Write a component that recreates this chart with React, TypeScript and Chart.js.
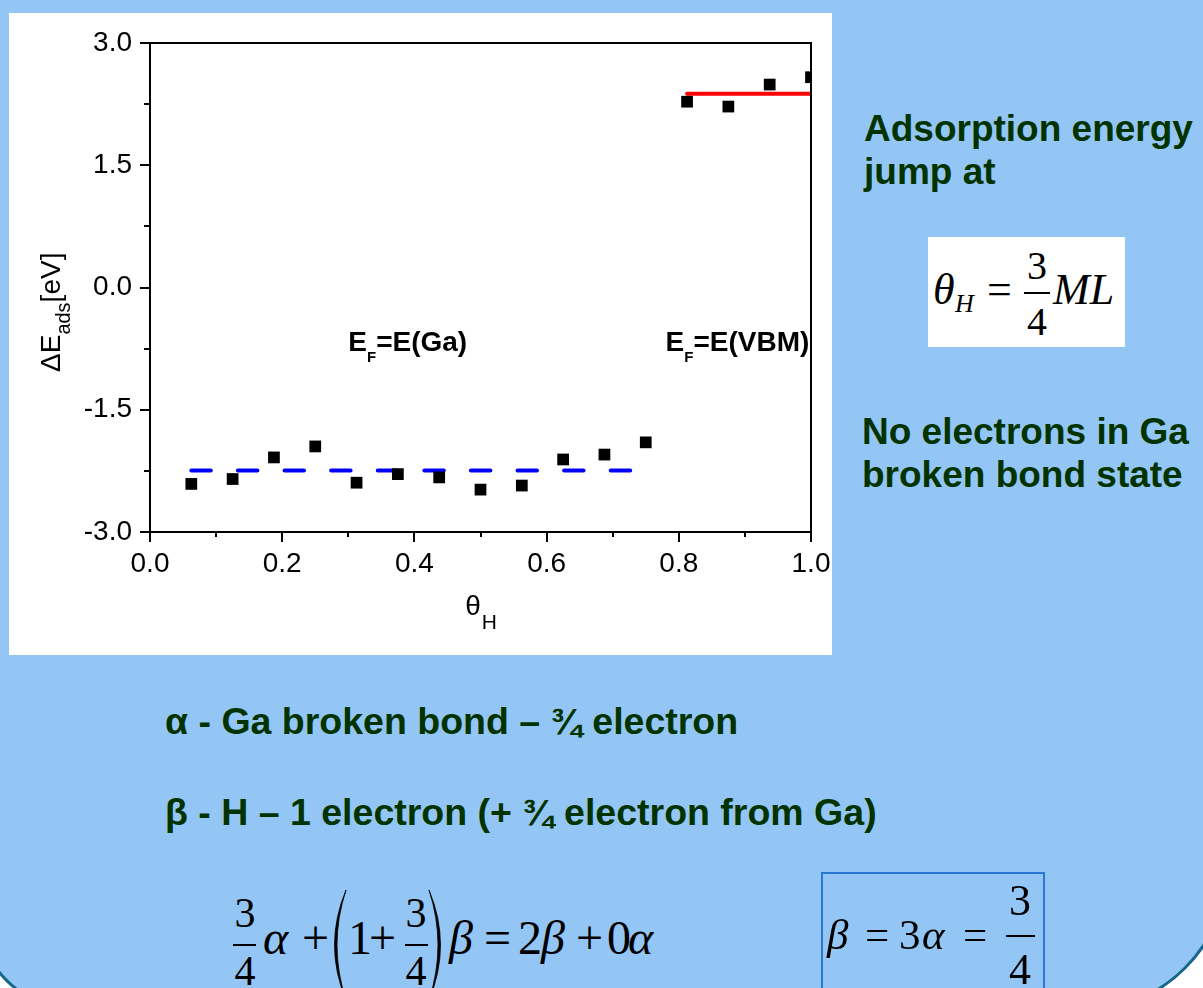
import React, { useEffect, useRef } from 'react';
import { Chart, registerables } from 'chart.js';

Chart.register(...registerables);

// ---- data ----
const thetaH = [0.0625, 0.125, 0.1875, 0.25, 0.3125, 0.375, 0.4375, 0.5, 0.5625, 0.625, 0.6875, 0.75, 0.8125, 0.875, 0.9375, 1.0];
const deltaEads = [-2.41, -2.35, -2.085, -1.95, -2.395, -2.29, -2.33, -2.48, -2.43, -2.11, -2.05, -1.9, 2.28, 2.22, 2.49, 2.58];
const fitGaX = [0.0625, 0.73];
const fitGaY = [-2.245, -2.245];
const fitVbmX = [0.8125, 1.0];
const fitVbmY = [2.378, 2.378];
const xTicks = [0, 0.2, 0.4, 0.6, 0.8, 1.0];
const yTicks = [-3, -1.5, 0, 1.5, 3];
const xMinorTicks = [0.1, 0.3, 0.5, 0.7, 0.9];
const yMinorTicks = [-2.25, -0.75, 0.75, 2.25];
const annoLabels = ['E(Ga)', 'E(VBM)'];
const annoX = [0.3, 0.78];
const annoY = [-0.78, -0.78];

const SANS = '"Liberation Sans", Arial, Helvetica, sans-serif';
const SERIF = '"Liberation Serif", "Times New Roman", Times, serif';
const BLUE = 'rgb(148,198,245)';
const GREEN = '#003300';

const decorPlugin = {
  id: 'decor',
  afterDraw(chart: any) {
    const { ctx, chartArea: a } = chart;
    const xs = chart.scales.x;
    const ys = chart.scales.y;
    ctx.save();
    ctx.strokeStyle = '#000';
    ctx.lineWidth = 2;
    ctx.beginPath();
    ctx.moveTo(a.left, a.top);
    ctx.lineTo(a.right, a.top);
    ctx.lineTo(a.right, a.bottom);
    ctx.stroke();
    ctx.beginPath();
    xMinorTicks.forEach((v) => {
      const px = Math.round(xs.getPixelForValue(v));
      ctx.moveTo(px, a.bottom);
      ctx.lineTo(px, a.bottom + 5);
    });
    yMinorTicks.forEach((v) => {
      const py = Math.round(ys.getPixelForValue(v));
      ctx.moveTo(a.left, py);
      ctx.lineTo(a.left - 6, py);
    });
    ctx.stroke();

    ctx.fillStyle = '#000';
    ctx.textBaseline = 'alphabetic';
    ctx.textAlign = 'left';
    // x title
    ctx.font = `28px ${SANS}`;
    const w1 = ctx.measureText('θ').width;
    ctx.font = `21px ${SANS}`;
    const w2 = ctx.measureText('H').width;
    const cx = (a.left + a.right) / 2;
    const sx = cx - (w1 + w2) / 2;
    ctx.font = `28px ${SANS}`;
    ctx.fillText('θ', sx, a.bottom + 83);
    ctx.font = `21px ${SANS}`;
    ctx.fillText('H', sx + w1 + 1, a.bottom + 97);

    // y title
    ctx.save();
    ctx.translate(51, 359);
    ctx.rotate(-Math.PI / 2);
    ctx.font = `28px ${SANS}`;
    ctx.fillText('ΔE', 0, 0);
    let off = ctx.measureText('ΔE').width;
    ctx.font = `20px ${SANS}`;
    ctx.fillText('ads', off, 10);
    off += ctx.measureText('ads').width;
    ctx.font = `28px ${SANS}`;
    ctx.fillText('[eV]', off, 0);
    ctx.restore();

    // annotations
    annoLabels.forEach((lab, i) => {
      const px = xs.getPixelForValue(annoX[i]);
      const py = ys.getPixelForValue(annoY[i]);
      ctx.font = `bold 28px ${SANS}`;
      ctx.fillText('E', px, py);
      let o = ctx.measureText('E').width;
      ctx.font = `bold 15px ${SANS}`;
      ctx.fillText('F', px + o, py + 11);
      o += ctx.measureText('F').width;
      ctx.font = `bold 28px ${SANS}`;
      ctx.fillText('=' + lab, px + o, py);
    });
    ctx.restore();
  },
};

type TP = {
  x: number;
  y: number;
  size: number;
  serif?: boolean;
  italic?: boolean;
  bold?: boolean;
  color?: string;
  center?: boolean;
  children: React.ReactNode;
};

function T({ x, y, size, serif, italic, bold, color = '#000', center, children }: TP) {
  const k = serif ? 0.8375 : 0.8465;
  return (
    <div
      style={{
        position: 'absolute',
        left: x,
        top: y - k * size,
        fontSize: size,
        lineHeight: 1,
        fontFamily: serif ? SERIF : SANS,
        fontStyle: italic ? 'italic' : 'normal',
        fontWeight: bold ? 700 : 400,
        color,
        whiteSpace: 'nowrap',
        transform: center ? 'translateX(-50%)' : undefined,
      }}
    >
      {children}
    </div>
  );
}

function Bar({ x1, x2, y }: { x1: number; x2: number; y: number }) {
  return <div style={{ position: 'absolute', left: x1, top: y - 0.8, width: x2 - x1, height: 1.6, background: '#000' }} />;
}

function Frac({ cx, top, bar, bottom, x1, x2, size }: { cx: number; top: number; bar: number; bottom: number; x1: number; x2: number; size: number }) {
  return (
    <>
      <T x={cx} y={top} size={size} serif center>3</T>
      <Bar x1={x1} x2={x2} y={bar} />
      <T x={cx} y={bottom} size={size} serif center>4</T>
    </>
  );
}

export default function App() {
  const ref = useRef<HTMLCanvasElement>(null);

  useEffect(() => {
    const fontTicks = { family: SANS, size: 28 };
    const chart = new Chart(ref.current as HTMLCanvasElement, {
      type: 'scatter',
      data: {
        datasets: [
          {
            label: 'ΔEads',
            data: thetaH.map((x, i) => ({ x, y: deltaEads[i] })),
            pointStyle: 'rect',
            pointRadius: 8.3,
            pointBorderWidth: 0,
            backgroundColor: '#000',
            borderColor: '#000',
            showLine: false,
            clip: 0,
          },
          {
            label: 'fit Ga',
            data: fitGaX.map((x, i) => ({ x, y: fitGaY[i] })),
            showLine: true,
            pointRadius: 0,
            borderColor: '#0000ff',
            borderWidth: 4,
            borderDash: [19.5, 27.1],
            borderCapStyle: 'round',
            clip: 0,
          },
          {
            label: 'fit VBM',
            data: fitVbmX.map((x, i) => ({ x, y: fitVbmY[i] })),
            showLine: true,
            pointRadius: 0,
            borderColor: '#ff0000',
            borderWidth: 4,
            borderCapStyle: 'round',
            clip: 0,
          },
        ],
      } as any,
      options: {
        animation: false,
        responsive: false,
        devicePixelRatio: 1,
        events: [],
        layout: { padding: { left: 0, top: 30, right: 21, bottom: 0 } },
        plugins: { legend: { display: false }, tooltip: { enabled: false } },
        scales: {
          x: {
            type: 'linear',
            min: 0,
            max: 1,
            afterBuildTicks: (s: any) => {
              s.ticks = xTicks.map((v) => ({ value: v }));
            },
            afterFit: (s: any) => {
              s.height = 123;
              s.paddingLeft = 0;
              s.paddingRight = 0;
            },
            ticks: {
              font: fontTicks,
              color: '#000',
              padding: 5,
              maxRotation: 0,
              autoSkip: false,
              callback: (v: any) => Number(v).toFixed(1),
            },
            grid: { drawOnChartArea: false, drawTicks: true, tickLength: 10, color: '#000', lineWidth: 2 },
            border: { display: true, color: '#000', width: 2 },
          },
          y: {
            type: 'linear',
            min: -3,
            max: 3,
            afterBuildTicks: (s: any) => {
              s.ticks = yTicks.map((v) => ({ value: v }));
            },
            afterFit: (s: any) => {
              s.width = 141;
              s.paddingTop = 0;
              s.paddingBottom = 0;
            },
            ticks: {
              font: fontTicks,
              color: '#000',
              padding: 8,
              autoSkip: false,
              callback: (v: any) => Number(v).toFixed(1),
            },
            grid: { drawOnChartArea: false, drawTicks: true, tickLength: 10, color: '#000', lineWidth: 2 },
            border: { display: true, color: '#000', width: 2 },
          },
        },
      } as any,
      plugins: [decorPlugin],
    });
    return () => chart.destroy();
  }, []);

  return (
    <div style={{ position: 'fixed', left: 0, top: 0, width: 1203, height: 988, overflow: 'hidden', background: '#fff' }}>
      <div
        style={{
          position: 'absolute',
          left: -25,
          top: -20,
          width: 1255,
          height: 1033,
          background: BLUE,
          border: '3px solid #17688a',
          boxSizing: 'border-box',
          borderRadius: '0 0 150px 106px',
        }}
      />
      <div style={{ position: 'absolute', left: 9, top: 13, width: 823, height: 642, background: '#fff' }}>
        <canvas ref={ref} width={823} height={642} style={{ display: 'block', width: 823, height: 642 }} />
      </div>

      {/* right side text */}
      <T x={864} y={141} size={37} bold color={GREEN}>Adsorption energy</T>
      <T x={864} y={184} size={37} bold color={GREEN}>jump at</T>
      <div style={{ position: 'absolute', left: 928, top: 237, width: 197, height: 110, background: '#fff' }} />
      <T x={933} y={305} size={44} serif italic>θ</T>
      <T x={955} y={313} size={26} serif italic>H</T>
      <T x={987} y={305} size={44} serif>=</T>
      <Frac cx={1037} top={279} bar={293} bottom={335} x1={1024} x2={1050} size={40} />
      <T x={1053} y={305} size={44} serif italic>ML</T>
      <T x={862} y={444} size={37} bold color={GREEN}>No electrons in Ga</T>
      <T x={862} y={487} size={37} bold color={GREEN}>broken bond state</T>

      {/* lower text */}
      <T x={165} y={735} size={37.5} bold color={GREEN}>α - Ga broken bond – ¾ electron</T>
      <T x={165} y={826} size={37.5} bold color={GREEN}>β - H – 1 electron (+ ¾ electron from Ga)</T>

      {/* left equation */}
      <Frac cx={245} top={927} bar={945} bottom={985} x1={233} x2={256} size={42} />
      <T x={263} y={954} size={48} serif italic>α</T>
      <T x={302} y={954} size={48} serif>+</T>
      <T x={348} y={954} size={48} serif>1</T>
      <T x={369} y={954} size={48} serif>+</T>
      <Frac cx={416} top={927} bar={945} bottom={985} x1={405} x2={428} size={42} />
      <T x={449} y={954} size={48} serif italic>β</T>
      <T x={484} y={954} size={48} serif>=</T>
      <T x={518} y={954} size={48} serif>2</T>
      <T x={541} y={954} size={48} serif italic>β</T>
      <T x={576} y={954} size={48} serif>+</T>
      <T x={607} y={954} size={48} serif>0</T>
      <T x={628} y={954} size={48} serif italic>α</T>
      <svg style={{ position: 'absolute', left: 0, top: 0 }} width={1203} height={988}>
        <path d="M 346 890 Q 323 945 346 1000 Q 328 945 346 890 Z" fill="#000" stroke="#000" strokeWidth={0.8} />
        <path d="M 429 890 Q 452 945 429 1000 Q 447 945 429 890 Z" fill="#000" stroke="#000" strokeWidth={0.8} />
      </svg>

      {/* boxed equation */}
      <div style={{ position: 'absolute', left: 821, top: 872, width: 224, height: 140, border: '2px solid #2a78d0', boxSizing: 'border-box' }} />
      <T x={827} y={949} size={43} serif italic>β</T>
      <T x={865} y={949} size={43} serif>=</T>
      <T x={899} y={949} size={43} serif>3</T>
      <T x={922} y={949} size={43} serif italic>α</T>
      <T x={963} y={949} size={43} serif>=</T>
      <Frac cx={1020} top={916} bar={936} bottom={985} x1={1006} x2={1035} size={44} />
    </div>
  );
}
